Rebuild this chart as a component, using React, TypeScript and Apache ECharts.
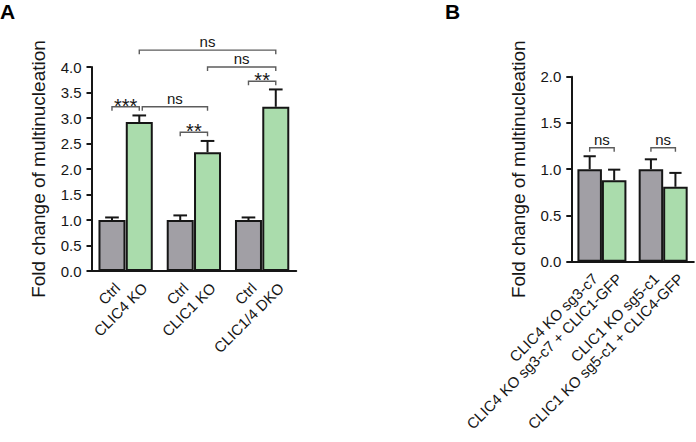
import React, { useEffect, useRef } from "react";
import * as echarts from "echarts";

// ---------- Data ----------
const categoriesA = ["Ctrl", "CLIC4 KO", "Ctrl", "CLIC1 KO", "Ctrl", "CLIC1/4 DKO"];
const meansA = [1.0, 2.92, 1.0, 2.33, 1.0, 3.22];
const errorsA = [0.05, 0.13, 0.09, 0.22, 0.05, 0.34];

const categoriesB = [
  "CLIC4 KO sg3-c7",
  "CLIC4 KO sg3-c7 + CLIC1-GFP",
  "CLIC1 KO sg5-c1",
  "CLIC1 KO sg5-c1 + CLIC4-GFP",
];
const meansB = [1.0, 0.88, 1.0, 0.81];
const errorsB = [0.14, 0.115, 0.107, 0.15];

// significance brackets: bar index from / to, bracket level (y value), label
const sigFromA = [0, 1, 2, 4, 3, 1];
const sigToA = [1, 3, 3, 5, 5, 5];
const sigLevelA = [3.22, 3.22, 2.72, 3.72, 4.0, 4.33];
const sigTextA = ["***", "ns", "**", "**", "ns", "ns"];

const sigFromB = [0, 2];
const sigToB = [1, 3];
const sigLevelB = [1.232, 1.232];
const sigTextB = ["ns", "ns"];

const yMaxA = 4;
const yMaxB = 2;
const yStep = 0.5;
const yTitle = "Fold change of multinucleation";

// ---------- Helpers ----------
const GRAY = "#a19fa5";
const GREEN = "#aadcac";
const INK = "#161616";
const FONT = "Liberation Sans";

// bars sit on half-bar-width slots: pairs of adjacent bars separated by half-bar gaps
const slotOf = (i: number) => 1 + Math.floor(i / 2) * 5 + (i % 2) * 2;
const slotCount = (n: number) => slotOf(n - 1) + 2;

function buildCategories(cats: string[]) {
  const arr: string[] = new Array(slotCount(cats.length)).fill("");
  cats.forEach((c, i) => (arr[slotOf(i)] = c));
  return arr;
}
function buildBars(means: number[]) {
  const arr: any[] = new Array(slotCount(means.length)).fill("-");
  means.forEach((m, i) => {
    arr[slotOf(i)] = { value: m, itemStyle: { color: i % 2 ? GREEN : GRAY } };
  });
  return arr;
}
function buildErrors(means: number[], errs: number[]) {
  return means.map((m, i) => [slotOf(i), m, errs[i]]);
}
function buildSig(from: number[], to: number[], lvl: number[]) {
  return from.map((f, i) => [slotOf(f), slotOf(to[i]), lvl[i]]);
}

function errorRender(params: any, api: any) {
  const s = api.value(0);
  const m = api.value(1);
  const e = api.value(2);
  const base = api.coord([s, m]);
  const top = api.coord([s, m + e]);
  const w = api.size([1, 0])[0];
  return {
    type: "group",
    children: [
      { type: "line", shape: { x1: base[0], y1: base[1], x2: top[0], y2: top[1] }, style: { stroke: INK, lineWidth: 2 } },
      { type: "line", shape: { x1: top[0] - w / 2, y1: top[1], x2: top[0] + w / 2, y2: top[1] }, style: { stroke: INK, lineWidth: 2 } },
    ],
  };
}

function makeSigRender(from: number[], to: number[], lvl: number[], texts: string[]) {
  return (params: any, api: any) => {
    const i = params.dataIndex;
    const a = api.coord([api.value(0), api.value(2)]);
    const b = api.coord([api.value(1), api.value(2)]);
    // keep a small gap when another bracket at the same level ends on this bar
    let nudge = 0;
    for (let j = 0; j < from.length; j++) {
      if (j !== i && to[j] === from[i] && lvl[j] === lvl[i]) nudge = 3;
    }
    const x1 = a[0] + nudge;
    const x2 = b[0];
    const y = a[1];
    const leg = 4;
    const isStar = texts[i].indexOf("*") >= 0;
    return {
      type: "group",
      children: [
        {
          type: "polyline",
          shape: { points: [[x1, y + leg], [x1, y], [x2, y], [x2, y + leg]] },
          style: { stroke: "#5c5c5c", lineWidth: 1.4, fill: "none" },
        },
        {
          type: "text",
          x: (x1 + x2) / 2,
          y: isStar ? y + 9 : y - 1,
          style: {
            text: texts[i],
            fontSize: isStar ? 20 : 15,
            fontFamily: FONT,
            fill: INK,
            align: "center",
            verticalAlign: "bottom",
          },
        },
      ],
    };
  };
}

function xAxisFor(cats: string[], gridIndex: number) {
  const names = buildCategories(cats);
  const show = (idx: number, val: string) => val !== "";
  return {
    type: "category",
    gridIndex,
    data: names,
    boundaryGap: true,
    axisLine: { lineStyle: { color: INK, width: 2 } },
    axisTick: { alignWithLabel: true, interval: show, length: 7, lineStyle: { color: INK, width: 2 } },
    axisLabel: {
      interval: show,
      rotate: 45,
      margin: 9,
      fontSize: 15,
      fontFamily: FONT,
      color: INK,
      align: "right",
      verticalAlign: "top",
    },
    splitLine: { show: false },
  };
}

function yAxisFor(max: number, gridIndex: number, nameGap: number) {
  return {
    type: "value",
    gridIndex,
    min: 0,
    max,
    interval: yStep,
    name: yTitle,
    nameLocation: "middle",
    nameGap,
    nameTextStyle: { fontSize: 19, fontFamily: FONT, color: INK },
    axisLine: { show: true, lineStyle: { color: INK, width: 2 } },
    axisTick: { show: true, length: 5, lineStyle: { color: INK, width: 2 } },
    axisLabel: {
      formatter: (v: number) => v.toFixed(1),
      fontSize: 15,
      fontFamily: FONT,
      color: INK,
      margin: 10,
    },
    splitLine: { show: false },
  };
}

export default function App() {
  const ref = useRef<HTMLDivElement>(null);
  useEffect(() => {
    if (!ref.current) return;
    const chart = echarts.init(ref.current, undefined, { renderer: "svg" });
    const option: any = {
      animation: false,
      backgroundColor: "#ffffff",
      textStyle: { fontFamily: FONT },
      grid: [
        { left: 91.5, top: 67, width: 204.75, height: 204 },
        { left: 571.3, top: 76.7, width: 122.5, height: 185 },
      ],
      xAxis: [xAxisFor(categoriesA, 0), xAxisFor(categoriesB, 1)],
      yAxis: [yAxisFor(yMaxA, 0, 44), yAxisFor(yMaxB, 1, 43)],
      graphic: [
        { type: "text", left: 0, top: 1, style: { text: "A", fontSize: 21, fontWeight: "bold", fontFamily: FONT, fill: "#000" } },
        { type: "text", left: 445, top: 1, style: { text: "B", fontSize: 21, fontWeight: "bold", fontFamily: FONT, fill: "#000" } },
      ],
      series: [
        { type: "custom", xAxisIndex: 0, yAxisIndex: 0, z: 1, renderItem: errorRender, encode: { x: 0, y: 1 }, data: buildErrors(meansA, errorsA) },
        { type: "bar", xAxisIndex: 0, yAxisIndex: 0, z: 2, barWidth: 27, itemStyle: { borderColor: INK, borderWidth: 2 }, data: buildBars(meansA) },
        {
          type: "custom", xAxisIndex: 0, yAxisIndex: 0, z: 3,
          renderItem: makeSigRender(sigFromA, sigToA, sigLevelA, sigTextA),
          encode: { x: [0, 1], y: 2 },
          data: buildSig(sigFromA, sigToA, sigLevelA),
        },
        { type: "custom", xAxisIndex: 1, yAxisIndex: 1, z: 1, renderItem: errorRender, encode: { x: 0, y: 1 }, data: buildErrors(meansB, errorsB) },
        { type: "bar", xAxisIndex: 1, yAxisIndex: 1, z: 2, barWidth: 24.5, itemStyle: { borderColor: INK, borderWidth: 2 }, data: buildBars(meansB) },
        {
          type: "custom", xAxisIndex: 1, yAxisIndex: 1, z: 3,
          renderItem: makeSigRender(sigFromB, sigToB, sigLevelB, sigTextB),
          encode: { x: [0, 1], y: 2 },
          data: buildSig(sigFromB, sigToB, sigLevelB),
        },
      ],
    };
    chart.setOption(option);
    return () => chart.dispose();
  }, []);
  return (
    <div
      ref={ref}
      style={{ position: "fixed", left: 0, top: 0, width: 696, height: 442, background: "#fff" }}
    />
  );
}
